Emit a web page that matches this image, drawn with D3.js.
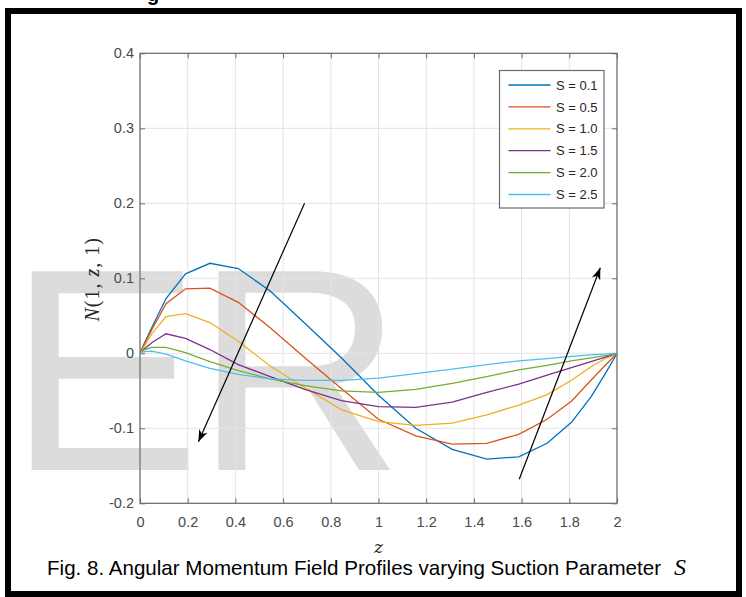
<!DOCTYPE html>
<html>
<head>
<meta charset="utf-8">
<script src="https://cdn.jsdelivr.net/npm/d3@7"></script>
<style>
    body { margin: 0; background: #fff; }
    svg { display: block; }
</style>
</head>
<body>
<div id="chart"></div>
<script>

// grid points (z) of the solver, and the six N(1, z, 1) profiles
var zPoints = [ 0, 0.012, 0.049, 0.109, 0.191, 0.293, 0.412, 0.546, 0.691, 0.844, 1.0,
                1.156, 1.309, 1.454, 1.588, 1.707, 1.809, 1.891, 1.951, 1.988, 2.0 ];

var seriesNames = [ 'S = 0.1', 'S = 0.5', 'S = 1.0', 'S = 1.5', 'S = 2.0', 'S = 2.5' ];

var s01 = [ 0, 0.009, 0.034, 0.073, 0.106, 0.120, 0.113, 0.083, 0.040, -0.006, -0.056,
            -0.100, -0.128, -0.141, -0.138, -0.120, -0.092, -0.058, -0.027, -0.007, 0 ];
var s05 = [ 0, 0.008, 0.031, 0.066, 0.086, 0.087, 0.068, 0.034, -0.006, -0.047, -0.088,
            -0.110, -0.121, -0.120, -0.108, -0.088, -0.064, -0.036, -0.016, -0.004, 0 ];
var s10 = [ 0, 0.006, 0.026, 0.049, 0.053, 0.041, 0.016, -0.017, -0.046, -0.075, -0.091,
            -0.096, -0.093, -0.082, -0.069, -0.055, -0.036, -0.018, -0.007, -0.002, 0 ];
var s15 = [ 0, 0.004, 0.014, 0.026, 0.020, 0.005, -0.015, -0.031, -0.048, -0.063, -0.071,
            -0.072, -0.065, -0.052, -0.041, -0.029, -0.019, -0.011, -0.005, -0.001, 0 ];
var s20 = [ 0, 0.004, 0.008, 0.008, 0.001, -0.011, -0.023, -0.034, -0.043, -0.050, -0.052,
            -0.048, -0.040, -0.031, -0.022, -0.016, -0.010, -0.006, -0.003, -0.001, 0 ];
var s25 = [ 0, 0.002, 0.003, -0.001, -0.010, -0.020, -0.028, -0.034, -0.036, -0.036, -0.033,
            -0.027, -0.021, -0.015, -0.010, -0.007, -0.004, -0.002, -0.001, 0, 0 ];

var seriesValues = [ s01, s05, s10, s15, s20, s25 ];

var xTicks = [ 0, 0.2, 0.4, 0.6, 0.8, 1, 1.2, 1.4, 1.6, 1.8, 2 ];
var xTickLabels = [ '0', '0.2', '0.4', '0.6', '0.8', '1', '1.2', '1.4', '1.6', '1.8', '2' ];
var yTicks = [ -0.2, -0.1, 0, 0.1, 0.2, 0.3, 0.4 ];
var yTickLabels = [ '-0.2', '-0.1', '0', '0.1', '0.2', '0.3', '0.4' ];

// trend arrows [ z, N ] from -> to
var arrowFrom = [ [ 0.69, 0.200 ], [ 1.59, -0.168 ] ];
var arrowTo =   [ [ 0.245, -0.118 ], [ 1.93, 0.114 ] ];

var width = 746,
    height = 597;

var colors = [ '#0072bd', '#d95319', '#edb120', '#7e2f8e', '#77ac30', '#4dbeee' ];

var x = d3.scaleLinear()
    .domain([ 0, 2 ])
    .range([ 140, 617 ]);

var y = d3.scaleLinear()
    .domain([ -0.2, 0.4 ])
    .range([ 503.3, 53.3 ]);

var svg = d3.select('#chart').append('svg')
    .attr('width', width)
    .attr('height', height);

svg.append('rect')
    .attr('width', width)
    .attr('height', height)
    .style('fill', '#fff');

// watermark

svg.append('text')
    .attr('x', 8)
    .attr('y', 470)
    .style('font-family', 'Liberation Sans, Arial, sans-serif')
    .style('font-size', '289px')
    .style('letter-spacing', '-6px')
    .style('fill', '#dcdcdc')
    .text('ER');

// grid

var grid = svg.append('g');

grid.selectAll('.vgrid')
    .data( xTicks )
    .enter().append('line')
    .attr('x1', function ( d ) { return x( d ) })
    .attr('x2', function ( d ) { return x( d ) })
    .attr('y1', y( 0.4 ))
    .attr('y2', y( -0.2 ))
    .style('stroke', '#e3e3e3')
    .style('stroke-width', 1);

grid.selectAll('.hgrid')
    .data( yTicks )
    .enter().append('line')
    .attr('x1', x( 0 ))
    .attr('x2', x( 2 ))
    .attr('y1', function ( d ) { return y( d ) })
    .attr('y2', function ( d ) { return y( d ) })
    .style('stroke', '#e3e3e3')
    .style('stroke-width', 1);

// axes

function styleAxis ( g ) {

    g.select('.domain').remove();
    g.selectAll('line').style('stroke', '#6b6b6b');
    g.selectAll('text')
        .style('font-family', 'Liberation Sans, Arial, sans-serif')
        .style('font-size', '14.5px')
        .style('fill', '#4a4a4a');

}

svg.append('g')
    .attr('transform', 'translate(0,' + y( -0.2 ) + ')')
    .call( d3.axisBottom( x )
        .tickValues( xTicks )
        .tickFormat( function ( d, i ) { return xTickLabels[ i ] })
        .tickSizeInner( -5 )
        .tickSizeOuter( 0 )
        .tickPadding( 13 ) )
    .call( styleAxis );

svg.append('g')
    .attr('transform', 'translate(0,' + y( 0.4 ) + ')')
    .call( d3.axisTop( x )
        .tickValues( xTicks )
        .tickFormat('')
        .tickSizeInner( -5 )
        .tickSizeOuter( 0 ) )
    .call( styleAxis );

svg.append('g')
    .attr('transform', 'translate(' + x( 0 ) + ',0)')
    .call( d3.axisLeft( y )
        .tickValues( yTicks )
        .tickFormat( function ( d, i ) { return yTickLabels[ i ] })
        .tickSizeInner( -5 )
        .tickSizeOuter( 0 )
        .tickPadding( 6 ) )
    .call( styleAxis );

svg.append('g')
    .attr('transform', 'translate(' + x( 2 ) + ',0)')
    .call( d3.axisRight( y )
        .tickValues( yTicks )
        .tickFormat('')
        .tickSizeInner( -5 )
        .tickSizeOuter( 0 ) )
    .call( styleAxis );

svg.append('rect')
    .attr('x', x( 0 ))
    .attr('y', y( 0.4 ))
    .attr('width', x( 2 ) - x( 0 ))
    .attr('height', y( -0.2 ) - y( 0.4 ))
    .style('fill', 'none')
    .style('stroke', '#6b6b6b')
    .style('stroke-width', 1.2);

// profiles

var line = d3.line()
    .x( function ( d, i ) { return x( zPoints[ i ] ) })
    .y( function ( d ) { return y( d ) });

svg.selectAll('.profile')
    .data( seriesValues )
    .enter().append('path')
    .attr('class', 'profile')
    .attr('d', line)
    .style('fill', 'none')
    .style('stroke', function ( d, i ) { return colors[ i ] })
    .style('stroke-width', 1.3);

// arrows

var defs = svg.append('defs');

defs.append('marker')
    .attr('id', 'head')
    .attr('viewBox', '-13 -6 14 12')
    .attr('refX', 0)
    .attr('refY', 0)
    .attr('markerWidth', 14)
    .attr('markerHeight', 12)
    .attr('markerUnits', 'userSpaceOnUse')
    .attr('orient', 'auto')
    .append('path')
    .attr('d', 'M0,0L-12,-4.5L-8.5,0L-12,4.5Z')
    .style('fill', '#000');

svg.selectAll('.arrow')
    .data( arrowFrom )
    .enter().append('line')
    .attr('x1', function ( d ) { return x( d[0] ) })
    .attr('y1', function ( d ) { return y( d[1] ) })
    .attr('x2', function ( d, i ) { return x( arrowTo[ i ][0] ) })
    .attr('y2', function ( d, i ) { return y( arrowTo[ i ][1] ) })
    .style('stroke', '#000')
    .style('stroke-width', 1.2)
    .attr('marker-end', 'url(#head)');

// legend

var legend = svg.append('g')
    .attr('transform', 'translate(499.5,70.5)');

legend.append('rect')
    .attr('width', 104.5)
    .attr('height', 137.5)
    .style('fill', '#fff')
    .style('stroke', '#6b6b6b')
    .style('stroke-width', 1.2);

var item = legend.selectAll('.item')
    .data( seriesNames )
    .enter().append('g')
    .attr('transform', function ( d, i ) { return 'translate(0,' + ( 14.5 + i * 21.9 ) + ')' });

item.append('line')
    .attr('x1', 9)
    .attr('x2', 51)
    .style('stroke', function ( d, i ) { return colors[ i ] })
    .style('stroke-width', 1.3);

item.append('text')
    .attr('x', 56.5)
    .attr('dy', '0.36em')
    .style('font-family', 'Liberation Sans, Arial, sans-serif')
    .style('font-size', '13px')
    .style('fill', '#262626')
    .text( function ( d ) { return d });

// axis titles

svg.append('text')
    .attr('x', x( 1 ))
    .attr('y', 553)
    .attr('text-anchor', 'middle')
    .style('font-family', 'DejaVu Serif, serif')
    .style('font-style', 'italic')
    .style('font-size', '17px')
    .style('fill', '#262626')
    .text('z');

var yTitle = svg.append('text')
    .attr('transform', 'translate(99,' + ( y( 0.1 ) + 1 ) + ') rotate(-90)')
    .attr('text-anchor', 'middle')
    .style('font-family', 'Liberation Serif, serif')
    .style('font-size', '20px')
    .style('letter-spacing', '1px')
    .style('fill', '#262626');

yTitle.append('tspan').style('font-style', 'italic').text('N');
yTitle.append('tspan').text('(1, ');
yTitle.append('tspan').style('font-style', 'italic').text('z');
yTitle.append('tspan').text(', 1)');

// caption and page frame

var caption = svg.append('text')
    .attr('x', 47)
    .attr('y', 575)
    .style('font-family', 'Liberation Sans, Arial, sans-serif')
    .style('font-size', '21px')
    .style('fill', '#000');

caption.append('tspan')
    .attr('textLength', 614)
    .attr('lengthAdjust', 'spacingAndGlyphs')
    .text('Fig. 8. Angular Momentum Field Profiles varying Suction Parameter');

caption.append('tspan')
    .attr('x', 674)
    .style('font-family', 'Liberation Serif, serif')
    .style('font-style', 'italic')
    .style('font-size', '24px')
    .text('S');

svg.append('text')
    .attr('x', 147)
    .attr('y', 1)
    .style('font-family', 'Liberation Sans, Arial, sans-serif')
    .style('font-weight', 'bold')
    .style('font-size', '20px')
    .text('g');

svg.append('rect')
    .attr('x', 8)
    .attr('y', 11)
    .attr('width', 731)
    .attr('height', 583)
    .style('fill', 'none')
    .style('stroke', '#000')
    .style('stroke-width', 6);

</script>
</body>
</html>
